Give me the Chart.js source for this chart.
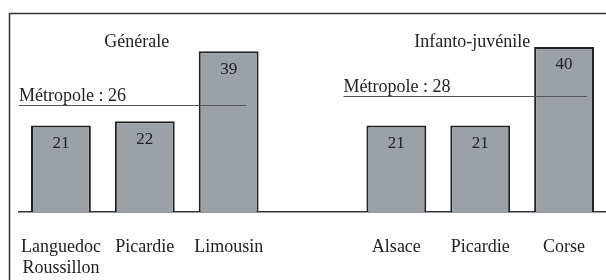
<!DOCTYPE html>
<html lang="fr">
<head>
<meta charset="UTF-8">
<title>Chart</title>
<script src="https://cdn.jsdelivr.net/npm/chart.js"></script>
<style>
  body { margin: 0; background: #fff; }
  #wrap { width: 606px; height: 280px; }
</style>
</head>
<body>
<div id="wrap"><canvas id="myChart"></canvas></div>
<script>
    const categories = [['Languedoc', 'Roussillon'], 'Picardie', 'Limousin', '', 'Alsace', 'Picardie', 'Corse']
    const values = [21, 22, 39, null, 21, 21, 40]
    const groupTitles = ['Générale', 'Infanto-juvénile']
    const groupCenters = [1, 5]          // category index under each title
    const metropole = [26, 28]
    const metropoleSpan = [[0, 2], [4, 6]] // first and last category of each line

    const serif = '"Liberation Serif", "Times New Roman", serif'
    const ink = '#222'

    const decorations = {
        id: 'decorations',
        afterDatasetsDraw(chart) {
            const { ctx } = chart
            const x = chart.scales.x
            const y = chart.scales.y
            const half = (x.getPixelForValue(1) - x.getPixelForValue(0)) / 2
            ctx.save()

            // frame
            ctx.strokeStyle = '#333'
            ctx.lineWidth = 1.5
            ctx.beginPath()
            ctx.moveTo(9.5, 280)
            ctx.lineTo(9.5, 13.5)
            ctx.lineTo(606, 13.5)
            ctx.stroke()

            // values inside bars
            ctx.fillStyle = ink
            ctx.font = '17px ' + serif
            ctx.textAlign = 'center'
            ctx.textBaseline = 'middle'
            chart.getDatasetMeta(0).data.forEach((bar, i) => {
                if (values[i] == null) return
                ctx.fillText(values[i], bar.x, bar.y + 18)
            })

            // group titles
            ctx.font = '18px ' + serif
            groupTitles.forEach((t, i) => {
                ctx.fillText(t, x.getPixelForValue(groupCenters[i]) - 8, 42)
            })

            // métropole reference lines
            const startOff = [-half, -half * 1.26]
            const endOff = [half * 0.43, half * 0.55]
            metropole.forEach((v, i) => {
                const py = Math.round(y.getPixelForValue(v)) + 0.5
                const x0 = x.getPixelForValue(metropoleSpan[i][0]) + startOff[i]
                const x1 = x.getPixelForValue(metropoleSpan[i][1]) + endOff[i]
                ctx.strokeStyle = '#555'
                ctx.lineWidth = 1
                ctx.beginPath()
                ctx.moveTo(x0, py)
                ctx.lineTo(x1, py)
                ctx.stroke()
                ctx.textAlign = 'left'
                ctx.textBaseline = 'alphabetic'
                ctx.fillStyle = ink
                ctx.fillText('Métropole : ' + v, x0, py - 5)
            })
            ctx.restore()
        }
    }

    new Chart(document.getElementById('myChart'), {
        type: 'bar',
        data: {
            labels: categories,
            datasets: [{
                data: values,
                backgroundColor: '#9ba1a7',
                borderColor: ink,
                borderWidth: 2,
                borderSkipped: 'bottom',
                barPercentage: 0.714,
                categoryPercentage: 1
            }]
        },
        options: {
            responsive: true,
            maintainAspectRatio: false,
            animation: false,
            layout: { padding: { top: 14, left: 19, right: 0, bottom: 0 } },
            plugins: { legend: { display: false }, tooltip: { enabled: false } },
            scales: {
                x: {
                    grid: { display: false, drawTicks: false },
                    border: { display: true, color: '#333', width: 1.5 },
                    ticks: {
                        color: ink,
                        font: { family: serif, size: 18 },
                        padding: 24,
                        maxRotation: 0,
                        autoSkip: false
                    },
                    afterFit(scale) {
                        scale.height = 68
                        scale.paddingLeft = 0
                        scale.paddingRight = 0
                    }
                },
                y: {
                    display: false,
                    min: 0,
                    max: 48
                }
            }
        },
        plugins: [decorations]
    })
</script>
</body>
</html>
